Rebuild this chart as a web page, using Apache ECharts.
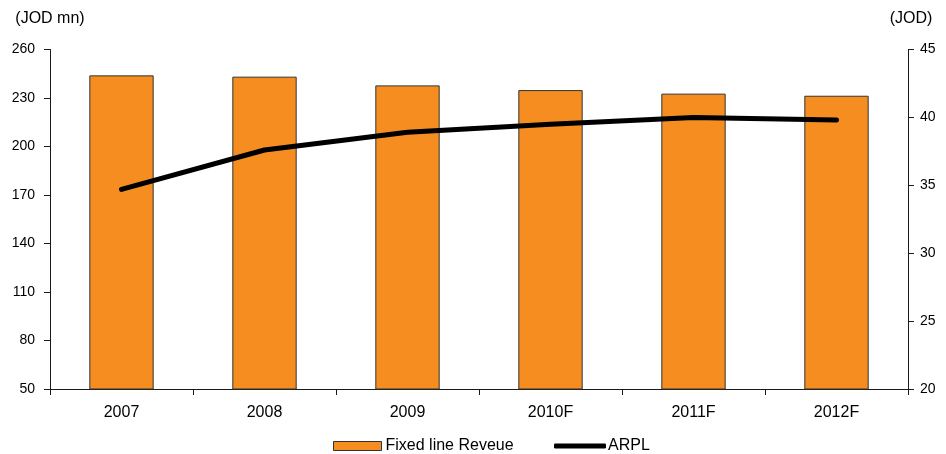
<!DOCTYPE html>
<html>
<head>
<meta charset="utf-8">
<script src="https://cdn.jsdelivr.net/npm/echarts@6/dist/echarts.min.js"></script>
<style>
  html, body { margin: 0; padding: 0; background: #fff; }
  #chart { width: 946px; height: 454px; }
</style>
</head>
<body>
<div id="chart"></div>
<script>
// Fixed-line revenue (JOD mn, left axis) and ARPL (JOD, right axis)
const years = ['2007', '2008', '2009', '2010F', '2011F', '2012F'];
const fixedLineRevenue = [244, 243.2, 237.8, 234.9, 232.7, 231.4];
const arpl = [34.7, 37.6, 38.9, 39.5, 40.0, 39.8];
const leftTicks = { min: 50, max: 260, interval: 30 };
const rightTicks = { min: 20, max: 45, interval: 5 };

const font = '"Liberation Sans", Arial, sans-serif';
const axisColor = '#1a1a1a';

const chart = echarts.init(document.getElementById('chart'), null, { renderer: 'canvas' });

chart.setOption({
  animation: false,
  textStyle: { fontFamily: font, color: '#000' },
  grid: { left: 50, right: 38, top: 49.5, bottom: 65, containLabel: false },
  legend: [
    {
      data: [{ name: 'Fixed line Reveue', icon: 'rect' }],
      left: 328, top: 433,
      itemWidth: 48, itemHeight: 9, itemGap: 5,
      textStyle: { fontSize: 16, color: '#000', fontFamily: font, padding: [0, 0, 0, -1] },
      itemStyle: { borderColor: '#333', borderWidth: 1 }
    },
    {
      data: [{ name: 'ARPL', icon: 'roundRect' }],
      left: 549, top: 433,
      itemWidth: 52, itemHeight: 5, itemGap: 2,
      textStyle: { fontSize: 16, color: '#000', fontFamily: font, padding: [0, 0, 0, -3] }
    }
  ],
  xAxis: {
    type: 'category',
    data: years,
    axisLine: { lineStyle: { color: axisColor, width: 1 } },
    axisTick: { show: true, length: 6, alignWithLabel: false, lineStyle: { color: axisColor } },
    axisLabel: { fontSize: 16, color: '#000', margin: 16, fontFamily: font }
  },
  yAxis: [
    {
      type: 'value',
      min: leftTicks.min, max: leftTicks.max, interval: leftTicks.interval,
      name: '(JOD mn)',
      nameLocation: 'end',
      nameGap: 23,
      nameTextStyle: { fontSize: 16, color: '#000', fontFamily: font, align: 'center' },
      axisLine: { show: true, lineStyle: { color: axisColor, width: 1 } },
      axisTick: { show: true, length: 6, lineStyle: { color: axisColor } },
      splitLine: { show: false },
      axisLabel: { fontSize: 14, color: '#000', margin: 15, fontFamily: font }
    },
    {
      type: 'value',
      min: rightTicks.min, max: rightTicks.max, interval: rightTicks.interval,
      name: '(JOD)',
      nameLocation: 'end',
      nameGap: 23,
      nameTextStyle: { fontSize: 16, color: '#000', fontFamily: font, align: 'center', padding: [0, 0, 0, 6] },
      axisLine: { show: true, lineStyle: { color: axisColor, width: 1 } },
      axisTick: { show: true, length: 6, lineStyle: { color: axisColor } },
      splitLine: { show: false },
      axisLabel: { fontSize: 14, color: '#000', margin: 12, fontFamily: font }
    }
  ],
  series: [
    {
      name: 'Fixed line Reveue',
      type: 'bar',
      data: fixedLineRevenue,
      barWidth: '45%',
      itemStyle: { color: '#F58D20', borderColor: '#333', borderWidth: 1 }
    },
    {
      name: 'ARPL',
      type: 'line',
      yAxisIndex: 1,
      data: arpl,
      symbol: 'none',
      itemStyle: { color: '#000' },
      lineStyle: { color: '#000', width: 5, cap: 'round', join: 'round' }
    }
  ]
});
</script>
</body>
</html>
